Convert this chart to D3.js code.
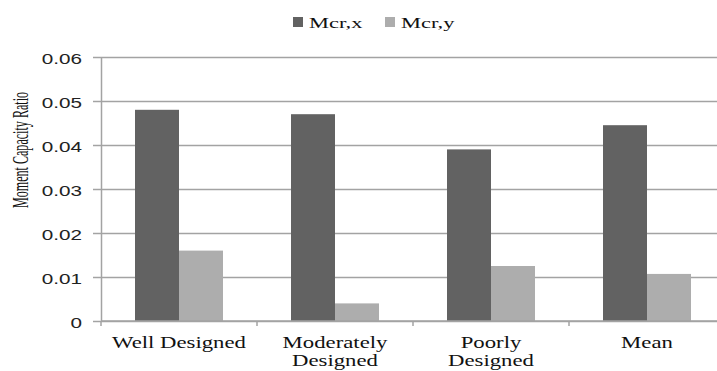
<!DOCTYPE html>
<html>
<head>
<meta charset="utf-8">
<script src="https://cdn.jsdelivr.net/npm/d3@7"></script>
<style>
  html, body { margin: 0; padding: 0; background: #fff; }
  svg { display: block; }
  .serif { font-family: 'Liberation Serif', 'Times New Roman', serif; }
</style>
</head>
<body>
<svg id="chart" width="717" height="371"></svg>
<script>
// Moment capacity ratio by design quality
const categories = [["Well Designed"], ["Moderately", "Designed"], ["Poorly", "Designed"], ["Mean"]];
const seriesNames = ["Mcr,x", "Mcr,y"];
const mcrX = [0.048, 0.047, 0.039, 0.0445];
const mcrY = [0.016, 0.004, 0.0125, 0.0107];
const yTicks = [0, 0.01, 0.02, 0.03, 0.04, 0.05, 0.06];
const seriesColors = ["#626262", "#adadad"];

(function () {
  const svg = d3.select("#chart");
  const W = 717;
  const plotLeft = 101, plotTop = 57, plotBottom = 321;
  const step = 156;                         // width of one category slot
  const plotRight = plotLeft + step * categories.length;
  const stretch = 1.3;                      // horizontal glyph stretch

  const catKeys = categories.map(c => c.join(" "));
  const x0 = d3.scaleBand().domain(catKeys).range([plotLeft, plotRight]).padding(0);
  const x1 = d3.scaleBand().domain(seriesNames).range([0, x0.bandwidth()])
    .paddingInner(0).paddingOuter(0.773);
  const y = d3.scaleLinear().domain([0, 0.06]).range([plotBottom, plotTop]);

  const gridColor = "#a3a3a3";
  const fmt = d => d === 0 ? "0" : d3.format(".2f")(d);

  // gridlines + y ticks
  const yAxis = d3.axisLeft(y).tickValues(yTicks).tickSize(-(W - plotLeft + 10)).tickSizeOuter(0)
    .tickFormat(fmt);
  const gy = svg.append("g").attr("transform", `translate(${plotLeft},0)`).call(yAxis);
  gy.select(".domain").attr("stroke", gridColor).attr("stroke-width", 1.5);
  gy.selectAll(".tick line").attr("stroke", gridColor).attr("stroke-width", 1.5)
    .attr("x1", -8);
  gy.selectAll(".tick text").remove();
  gy.selectAll(".tick").append("text")
    .attr("transform", `translate(-19,6) scale(1.38,1)`)
    .attr("text-anchor", "end")
    .attr("fill", "#222")
    .style("font-family", "'Liberation Sans', Arial, sans-serif")
    .style("font-size", "15px")
    .text(fmt);

  // bars
  const groups = svg.append("g").selectAll("g")
    .data(catKeys)
    .join("g")
    .attr("transform", d => `translate(${x0(d)},0)`);
  groups.selectAll("rect")
    .data((d, i) => [{s: seriesNames[0], v: mcrX[i]}, {s: seriesNames[1], v: mcrY[i]}])
    .join("rect")
    .attr("x", d => x1(d.s))
    .attr("width", x1.bandwidth())
    .attr("y", d => y(d.v))
    .attr("height", d => y(0) - y(d.v))
    .attr("fill", (d, i) => seriesColors[i]);

  // x axis baseline and category ticks
  const xAxisG = svg.append("g");
  xAxisG.append("line").attr("x1", plotLeft).attr("x2", W).attr("y1", y(0)).attr("y2", y(0))
    .attr("stroke", gridColor).attr("stroke-width", 1.5);
  xAxisG.selectAll("line.ct")
    .data(catKeys)
    .join("line")
    .attr("class", "ct")
    .attr("x1", d => x0(d)).attr("x2", d => x0(d))
    .attr("y1", y(0)).attr("y2", y(0) + 5)
    .attr("stroke", gridColor).attr("stroke-width", 1.5);

  // category labels
  const labels = xAxisG.selectAll("text.cl")
    .data(categories)
    .join("text")
    .attr("class", "cl serif")
    .attr("transform", (d, i) => `translate(${x0(catKeys[i]) + x0.bandwidth() / 2},348) scale(${stretch},1)`)
    .attr("text-anchor", "middle")
    .attr("fill", "#111")
    .style("font-size", "17.5px");
  labels.selectAll("tspan")
    .data(d => d)
    .join("tspan")
    .attr("x", 0)
    .attr("dy", (d, i) => i === 0 ? 0 : 18)
    .text(d => d);

  // y axis title
  svg.append("text")
    .attr("class", "serif")
    .attr("transform", `translate(28,150) scale(1.75,0.93) rotate(-90)`)
    .attr("text-anchor", "middle")
    .attr("fill", "#111")
    .style("font-size", "13px")
    .text("Moment Capacity Ratio");

  // legend
  const legendPos = [293, 385];
  const legend = svg.append("g").selectAll("g")
    .data(seriesNames)
    .join("g")
    .attr("transform", (d, i) => `translate(${legendPos[i]},0)`);
  legend.append("rect")
    .attr("x", 0).attr("y", 17).attr("width", 10).attr("height", 10)
    .attr("fill", (d, i) => seriesColors[i]);
  legend.append("text")
    .attr("class", "serif")
    .attr("transform", `translate(16,28) scale(1.45,1)`)
    .attr("fill", "#111")
    .style("font-size", "15.5px")
    .text(d => d);
})();
</script>
</body>
</html>
